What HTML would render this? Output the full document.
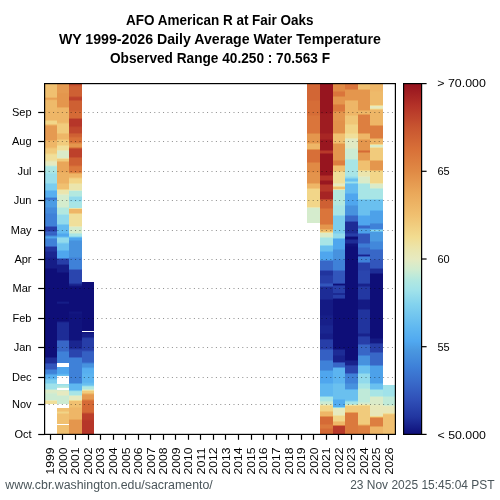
<!DOCTYPE html>
<html><head><meta charset="utf-8">
<style>
html,body{margin:0;padding:0;background:#fff;width:500px;height:500px;overflow:hidden}
svg{display:block;position:absolute;left:0;top:0;will-change:transform}
text{font-family:"Liberation Sans",sans-serif;fill:#000}
.t{font-weight:bold;font-size:14.6px}
.lab{font-size:11px}
</style></head><body>
<svg width="500" height="500" viewBox="0 0 500 500">
<defs>
<linearGradient id="cb" x1="0" y1="0" x2="0" y2="1">
<stop offset="0" stop-color="#94121e"/>
<stop offset="0.0625" stop-color="#b43228"/>
<stop offset="0.125" stop-color="#c85530"/>
<stop offset="0.1875" stop-color="#d87038"/>
<stop offset="0.25" stop-color="#e08a45"/>
<stop offset="0.3125" stop-color="#eaa85a"/>
<stop offset="0.375" stop-color="#f0c070"/>
<stop offset="0.4375" stop-color="#f2dc90"/>
<stop offset="0.475" stop-color="#eae6b0"/>
<stop offset="0.5" stop-color="#e6eac0"/>
<stop offset="0.53" stop-color="#d0ecd0"/>
<stop offset="0.56" stop-color="#b2e8e0"/>
<stop offset="0.59" stop-color="#a0e2ea"/>
<stop offset="0.63" stop-color="#82d2ee"/>
<stop offset="0.695" stop-color="#60b8f0"/>
<stop offset="0.735" stop-color="#50a8f0"/>
<stop offset="0.76" stop-color="#4a98e0"/>
<stop offset="0.8075" stop-color="#3e80d8"/>
<stop offset="0.855" stop-color="#3868c8"/>
<stop offset="0.9" stop-color="#3050b8"/>
<stop offset="0.95" stop-color="#2236a0"/>
<stop offset="1" stop-color="#0e0e78"/>
</linearGradient>
</defs>
<rect x="0" y="0" width="500" height="500" fill="#fff"/>
<text class="t" x="219.8" y="24.7" text-anchor="middle" textLength="187.5" lengthAdjust="spacingAndGlyphs">AFO American R at Fair Oaks</text>
<text class="t" x="219.9" y="43.8" text-anchor="middle" textLength="322" lengthAdjust="spacingAndGlyphs">WY 1999-2026 Daily Average Water Temperature</text>
<text class="t" x="220" y="62.8" text-anchor="middle" textLength="220" lengthAdjust="spacingAndGlyphs">Observed Range 40.250 : 70.563 F</text>
<g shape-rendering="crispEdges">
<rect x="44.5" y="83.5" width="12.5" height="13.02" fill="#f0c070"/>
<rect x="44.5" y="96.5" width="12.5" height="1.02" fill="#edb465"/>
<rect x="44.5" y="97.5" width="12.5" height="1.02" fill="#e79f54"/>
<rect x="44.5" y="98.5" width="12.5" height="1.02" fill="#e9a659"/>
<rect x="44.5" y="99.5" width="12.5" height="1.02" fill="#eeb767"/>
<rect x="44.5" y="100.5" width="12.5" height="9.02" fill="#eeba6a"/>
<rect x="44.5" y="109.5" width="12.5" height="1.02" fill="#eeb869"/>
<rect x="44.5" y="110.5" width="12.5" height="9.02" fill="#eeb667"/>
<rect x="44.5" y="119.5" width="12.5" height="1.02" fill="#f0c576"/>
<rect x="44.5" y="120.5" width="12.5" height="3.02" fill="#f2d689"/>
<rect x="44.5" y="123.5" width="12.5" height="1.02" fill="#f0c374"/>
<rect x="44.5" y="124.5" width="12.5" height="1.02" fill="#eaa85a"/>
<rect x="44.5" y="125.5" width="12.5" height="14.02" fill="#e59a51"/>
<rect x="44.5" y="139.5" width="12.5" height="1.02" fill="#eaaa5c"/>
<rect x="44.5" y="140.5" width="12.5" height="6.02" fill="#eeb667"/>
<rect x="44.5" y="146.5" width="12.5" height="1.02" fill="#efbc6c"/>
<rect x="44.5" y="147.5" width="12.5" height="1.02" fill="#f0c677"/>
<rect x="44.5" y="148.5" width="12.5" height="4.02" fill="#f1cb7c"/>
<rect x="44.5" y="152.5" width="12.5" height="1.02" fill="#f1d284"/>
<rect x="44.5" y="153.5" width="12.5" height="1.02" fill="#f2dc91"/>
<rect x="44.5" y="154.5" width="12.5" height="5.02" fill="#f0df9a"/>
<rect x="44.5" y="159.5" width="12.5" height="1.02" fill="#ede2a3"/>
<rect x="44.5" y="160.5" width="12.5" height="1.02" fill="#e8e8b6"/>
<rect x="44.5" y="161.5" width="12.5" height="3.02" fill="#e6eac0"/>
<rect x="44.5" y="164.5" width="12.5" height="1.02" fill="#d7ebcb"/>
<rect x="44.5" y="165.5" width="12.5" height="1.02" fill="#b6e9de"/>
<rect x="44.5" y="166.5" width="12.5" height="5.02" fill="#ace6e3"/>
<rect x="44.5" y="171.5" width="12.5" height="1.02" fill="#a9e5e5"/>
<rect x="44.5" y="172.5" width="12.5" height="1.02" fill="#a1e2ea"/>
<rect x="44.5" y="173.5" width="12.5" height="9.02" fill="#9bdfeb"/>
<rect x="44.5" y="182.5" width="12.5" height="1.02" fill="#8ad6ed"/>
<rect x="44.5" y="183.5" width="12.5" height="6.02" fill="#7ccdee"/>
<rect x="44.5" y="189.5" width="12.5" height="1.02" fill="#68bef0"/>
<rect x="44.5" y="190.5" width="12.5" height="6.02" fill="#57aff0"/>
<rect x="44.5" y="196.5" width="12.5" height="1.02" fill="#4a98e0"/>
<rect x="44.5" y="197.5" width="12.5" height="1.02" fill="#3b75d1"/>
<rect x="44.5" y="198.5" width="12.5" height="1.02" fill="#3d7cd5"/>
<rect x="44.5" y="199.5" width="12.5" height="1.02" fill="#4996df"/>
<rect x="44.5" y="200.5" width="12.5" height="6.02" fill="#4c9ce4"/>
<rect x="44.5" y="206.5" width="12.5" height="1.02" fill="#4893de"/>
<rect x="44.5" y="207.5" width="12.5" height="5.02" fill="#448bdc"/>
<rect x="44.5" y="212.5" width="12.5" height="1.02" fill="#4186da"/>
<rect x="44.5" y="213.5" width="12.5" height="12.02" fill="#3f81d8"/>
<rect x="44.5" y="225.5" width="12.5" height="1.02" fill="#3560c3"/>
<rect x="44.5" y="226.5" width="12.5" height="4.02" fill="#273ea8"/>
<rect x="44.5" y="230.5" width="12.5" height="1.02" fill="#3152ba"/>
<rect x="44.5" y="231.5" width="12.5" height="1.02" fill="#3867c7"/>
<rect x="44.5" y="232.5" width="12.5" height="1.02" fill="#3663c5"/>
<rect x="44.5" y="233.5" width="12.5" height="1.02" fill="#3560c3"/>
<rect x="44.5" y="234.5" width="12.5" height="1.02" fill="#3b75d0"/>
<rect x="44.5" y="235.5" width="12.5" height="1.02" fill="#4996df"/>
<rect x="44.5" y="236.5" width="12.5" height="1.02" fill="#4fa6ee"/>
<rect x="44.5" y="237.5" width="12.5" height="1.02" fill="#4792de"/>
<rect x="44.5" y="238.5" width="12.5" height="7.02" fill="#3f81d8"/>
<rect x="44.5" y="245.5" width="12.5" height="1.02" fill="#345bc0"/>
<rect x="44.5" y="246.5" width="12.5" height="4.02" fill="#21349e"/>
<rect x="44.5" y="250.5" width="12.5" height="1.02" fill="#1e2d97"/>
<rect x="44.5" y="251.5" width="12.5" height="5.02" fill="#1a2690"/>
<rect x="44.5" y="256.5" width="12.5" height="1.02" fill="#18228c"/>
<rect x="44.5" y="257.5" width="12.5" height="10.02" fill="#151d87"/>
<rect x="44.5" y="267.5" width="12.5" height="1.02" fill="#12157f"/>
<rect x="44.5" y="268.5" width="12.5" height="88.02" fill="#0e0e78"/>
<rect x="44.5" y="356.5" width="12.5" height="1.02" fill="#161d87"/>
<rect x="44.5" y="357.5" width="12.5" height="5.02" fill="#1d2c96"/>
<rect x="44.5" y="362.5" width="12.5" height="1.02" fill="#2943ac"/>
<rect x="44.5" y="363.5" width="12.5" height="5.02" fill="#3256bc"/>
<rect x="44.5" y="368.5" width="12.5" height="1.02" fill="#396ccb"/>
<rect x="44.5" y="369.5" width="12.5" height="3.02" fill="#3f81d8"/>
<rect x="44.5" y="372.5" width="12.5" height="1.02" fill="#4186da"/>
<rect x="44.5" y="373.5" width="12.5" height="1.02" fill="#4c9de5"/>
<rect x="44.5" y="374.5" width="12.5" height="3.02" fill="#57aff0"/>
<rect x="44.5" y="377.5" width="12.5" height="1.02" fill="#5db5f0"/>
<rect x="44.5" y="378.5" width="12.5" height="1.02" fill="#70c4ef"/>
<rect x="44.5" y="379.5" width="12.5" height="3.02" fill="#7ccdee"/>
<rect x="44.5" y="382.5" width="12.5" height="1.02" fill="#8dd8ed"/>
<rect x="44.5" y="383.5" width="12.5" height="5.02" fill="#a0e2ea"/>
<rect x="44.5" y="388.5" width="12.5" height="1.02" fill="#bae9dc"/>
<rect x="44.5" y="389.5" width="12.5" height="2.02" fill="#dcebc7"/>
<rect x="44.5" y="391.5" width="12.5" height="1.02" fill="#d9ebc9"/>
<rect x="44.5" y="392.5" width="12.5" height="1.02" fill="#d2eccf"/>
<rect x="44.5" y="393.5" width="12.5" height="6.02" fill="#ccebd2"/>
<rect x="44.5" y="399.5" width="12.5" height="1.02" fill="#e7e9bb"/>
<rect x="44.5" y="400.5" width="12.5" height="3.52" fill="#f0df9a"/>
<rect x="57" y="83.5" width="12" height="8.02" fill="#e59a51"/>
<rect x="57" y="91.5" width="12" height="1.02" fill="#e59a50"/>
<rect x="57" y="92.5" width="12" height="1.02" fill="#e4974e"/>
<rect x="57" y="93.5" width="12" height="13.02" fill="#e4964d"/>
<rect x="57" y="106.5" width="12" height="1.02" fill="#eaa85a"/>
<rect x="57" y="107.5" width="12" height="14.02" fill="#eeb667"/>
<rect x="57" y="121.5" width="12" height="1.02" fill="#eeba6a"/>
<rect x="57" y="122.5" width="12" height="1.02" fill="#f0c475"/>
<rect x="57" y="123.5" width="12" height="9.02" fill="#f1cb7c"/>
<rect x="57" y="132.5" width="12" height="1.02" fill="#f0c070"/>
<rect x="57" y="133.5" width="12" height="5.02" fill="#eeb667"/>
<rect x="57" y="138.5" width="12" height="1.02" fill="#f0c070"/>
<rect x="57" y="139.5" width="12" height="5.02" fill="#f1cb7c"/>
<rect x="57" y="144.5" width="12" height="1.02" fill="#f2d689"/>
<rect x="57" y="145.5" width="12" height="4.02" fill="#f0df9a"/>
<rect x="57" y="149.5" width="12" height="1.02" fill="#e9e7b5"/>
<rect x="57" y="150.5" width="12" height="7.02" fill="#daebc9"/>
<rect x="57" y="157.5" width="12" height="1.02" fill="#eee1a2"/>
<rect x="57" y="158.5" width="12" height="2.02" fill="#f1cb7c"/>
<rect x="57" y="160.5" width="12" height="1.02" fill="#eeb869"/>
<rect x="57" y="161.5" width="12" height="10.02" fill="#e9a659"/>
<rect x="57" y="171.5" width="12" height="1.02" fill="#ebad5e"/>
<rect x="57" y="172.5" width="12" height="10.02" fill="#edb263"/>
<rect x="57" y="182.5" width="12" height="1.02" fill="#eeb96a"/>
<rect x="57" y="183.5" width="12" height="5.02" fill="#f0c070"/>
<rect x="57" y="188.5" width="12" height="1.02" fill="#f2d588"/>
<rect x="57" y="189.5" width="12" height="3.02" fill="#ebe5ad"/>
<rect x="57" y="192.5" width="12" height="1.02" fill="#eae6b1"/>
<rect x="57" y="193.5" width="12" height="1.02" fill="#e4eac2"/>
<rect x="57" y="194.5" width="12" height="12.02" fill="#d5eccd"/>
<rect x="57" y="206.5" width="12" height="1.02" fill="#c5ead6"/>
<rect x="57" y="207.5" width="12" height="6.02" fill="#b3e8df"/>
<rect x="57" y="213.5" width="12" height="1.02" fill="#a4e3e8"/>
<rect x="57" y="214.5" width="12" height="9.02" fill="#92daec"/>
<rect x="57" y="223.5" width="12" height="1.02" fill="#79cbef"/>
<rect x="57" y="224.5" width="12" height="8.02" fill="#64bbf0"/>
<rect x="57" y="232.5" width="12" height="1.02" fill="#59b1f0"/>
<rect x="57" y="233.5" width="12" height="2.02" fill="#4fa6ee"/>
<rect x="57" y="235.5" width="12" height="1.02" fill="#59b1f0"/>
<rect x="57" y="236.5" width="12" height="1.02" fill="#79cbef"/>
<rect x="57" y="237.5" width="12" height="4.02" fill="#92daec"/>
<rect x="57" y="241.5" width="12" height="1.02" fill="#88d5ed"/>
<rect x="57" y="242.5" width="12" height="1.02" fill="#75c8ef"/>
<rect x="57" y="243.5" width="12" height="6.02" fill="#6ac0ef"/>
<rect x="57" y="249.5" width="12" height="1.02" fill="#5cb4f0"/>
<rect x="57" y="250.5" width="12" height="7.02" fill="#4fa6ee"/>
<rect x="57" y="257.5" width="12" height="1.02" fill="#3a72cf"/>
<rect x="57" y="258.5" width="12" height="5.02" fill="#273ea8"/>
<rect x="57" y="263.5" width="12" height="1.02" fill="#1f309a"/>
<rect x="57" y="264.5" width="12" height="7.02" fill="#151d87"/>
<rect x="57" y="271.5" width="12" height="1.02" fill="#12157f"/>
<rect x="57" y="272.5" width="12" height="28.02" fill="#0e0e78"/>
<rect x="57" y="300.5" width="12" height="1.02" fill="#10137d"/>
<rect x="57" y="301.5" width="12" height="1.02" fill="#151d87"/>
<rect x="57" y="302.5" width="12" height="1.02" fill="#131882"/>
<rect x="57" y="303.5" width="12" height="17.02" fill="#0e0e78"/>
<rect x="57" y="320.5" width="12" height="1.02" fill="#131781"/>
<rect x="57" y="321.5" width="12" height="1.02" fill="#1a2690"/>
<rect x="57" y="322.5" width="12" height="17.02" fill="#1d2c96"/>
<rect x="57" y="339.5" width="12" height="1.02" fill="#2d4bb3"/>
<rect x="57" y="340.5" width="12" height="10.02" fill="#3867c7"/>
<rect x="57" y="350.5" width="12" height="1.02" fill="#3b74d0"/>
<rect x="57" y="351.5" width="12" height="11.02" fill="#3f81d8"/>
<rect x="57" y="362.5" width="12" height="1.02" fill="#4792de"/>
<rect x="57" y="363.5" width="12" height="9.02" fill="#4fa6ee"/>
<rect x="57" y="372.5" width="12" height="1.02" fill="#51a9f0"/>
<rect x="57" y="373.5" width="12" height="1.02" fill="#5eb6f0"/>
<rect x="57" y="374.5" width="12" height="1.02" fill="#6ac0ef"/>
<rect x="57" y="375.5" width="12" height="1.02" fill="#78cbef"/>
<rect x="57" y="376.5" width="12" height="1.02" fill="#8dd8ed"/>
<rect x="57" y="377.5" width="12" height="6.02" fill="#92daec"/>
<rect x="57" y="383.5" width="12" height="1.02" fill="#9bdfeb"/>
<rect x="57" y="384.5" width="12" height="1.02" fill="#a6e4e7"/>
<rect x="57" y="385.5" width="12" height="1.02" fill="#ade6e3"/>
<rect x="57" y="386.5" width="12" height="1.02" fill="#bfead9"/>
<rect x="57" y="387.5" width="12" height="2.02" fill="#ccebd2"/>
<rect x="57" y="389.5" width="12" height="1.02" fill="#d7ebcb"/>
<rect x="57" y="390.5" width="12" height="1.02" fill="#e4eac2"/>
<rect x="57" y="391.5" width="12" height="3.02" fill="#e6eac0"/>
<rect x="57" y="394.5" width="12" height="1.02" fill="#daebc9"/>
<rect x="57" y="395.5" width="12" height="8.02" fill="#ccebd2"/>
<rect x="57" y="403.5" width="12" height="1.02" fill="#eee09e"/>
<rect x="57" y="404.5" width="12" height="6.02" fill="#f0c070"/>
<rect x="57" y="410.5" width="12" height="1.02" fill="#f1c97a"/>
<rect x="57" y="411.5" width="12" height="1.02" fill="#f1d487"/>
<rect x="57" y="412.5" width="12" height="1.02" fill="#f1cb7c"/>
<rect x="57" y="413.5" width="12" height="21.02" fill="#f0c070"/>
<rect x="57" y="363" width="12" height="4.2" fill="#ffffff"/>
<rect x="57" y="376.2" width="12" height="8" fill="#ffffff"/>
<rect x="57" y="388.4" width="12" height="1.8" fill="#ffffff"/>
<rect x="57" y="404" width="12" height="3.6" fill="#ffffff"/>
<rect x="57" y="423.8" width="12" height="1.2" fill="#ffffff"/>
<rect x="69" y="83.5" width="13" height="1.02" fill="#c34c2e"/>
<rect x="69" y="84.5" width="13" height="1.02" fill="#c75330"/>
<rect x="69" y="85.5" width="13" height="1.02" fill="#cc5c32"/>
<rect x="69" y="86.5" width="13" height="9.02" fill="#ce6033"/>
<rect x="69" y="95.5" width="13" height="1.02" fill="#c85530"/>
<rect x="69" y="96.5" width="13" height="1.02" fill="#bf452c"/>
<rect x="69" y="97.5" width="13" height="2.02" fill="#bd412b"/>
<rect x="69" y="99.5" width="13" height="1.02" fill="#c6522f"/>
<rect x="69" y="100.5" width="13" height="9.02" fill="#ce6033"/>
<rect x="69" y="109.5" width="13" height="1.02" fill="#d06234"/>
<rect x="69" y="110.5" width="13" height="1.02" fill="#d36735"/>
<rect x="69" y="111.5" width="13" height="6.02" fill="#d56a36"/>
<rect x="69" y="117.5" width="13" height="1.02" fill="#c75330"/>
<rect x="69" y="118.5" width="13" height="7.02" fill="#b63629"/>
<rect x="69" y="125.5" width="13" height="1.02" fill="#ba3d2a"/>
<rect x="69" y="126.5" width="13" height="1.02" fill="#bf452c"/>
<rect x="69" y="127.5" width="13" height="5.02" fill="#c0472d"/>
<rect x="69" y="132.5" width="13" height="1.02" fill="#c85530"/>
<rect x="69" y="133.5" width="13" height="2.02" fill="#ce6033"/>
<rect x="69" y="135.5" width="13" height="1.02" fill="#d06334"/>
<rect x="69" y="136.5" width="13" height="1.02" fill="#d56c37"/>
<rect x="69" y="137.5" width="13" height="4.02" fill="#d87138"/>
<rect x="69" y="141.5" width="13" height="1.02" fill="#da783c"/>
<rect x="69" y="142.5" width="13" height="1.02" fill="#e08a45"/>
<rect x="69" y="143.5" width="13" height="3.02" fill="#e4964d"/>
<rect x="69" y="146.5" width="13" height="1.02" fill="#dc7d3f"/>
<rect x="69" y="147.5" width="13" height="1.02" fill="#c85630"/>
<rect x="69" y="148.5" width="13" height="8.02" fill="#bd412b"/>
<rect x="69" y="156.5" width="13" height="1.02" fill="#c6522f"/>
<rect x="69" y="157.5" width="13" height="7.02" fill="#ce6033"/>
<rect x="69" y="164.5" width="13" height="1.02" fill="#d36735"/>
<rect x="69" y="165.5" width="13" height="1.02" fill="#d9743a"/>
<rect x="69" y="166.5" width="13" height="5.02" fill="#db793d"/>
<rect x="69" y="171.5" width="13" height="1.02" fill="#de8542"/>
<rect x="69" y="172.5" width="13" height="1.02" fill="#e9a658"/>
<rect x="69" y="173.5" width="13" height="3.02" fill="#eeb667"/>
<rect x="69" y="176.5" width="13" height="1.02" fill="#f0bf6f"/>
<rect x="69" y="177.5" width="13" height="1.02" fill="#f1cf81"/>
<rect x="69" y="178.5" width="13" height="4.02" fill="#f2d689"/>
<rect x="69" y="182.5" width="13" height="1.02" fill="#f0df99"/>
<rect x="69" y="183.5" width="13" height="6.02" fill="#ebe5ad"/>
<rect x="69" y="189.5" width="13" height="1.02" fill="#dbebc8"/>
<rect x="69" y="190.5" width="13" height="5.02" fill="#b3e8df"/>
<rect x="69" y="195.5" width="13" height="1.02" fill="#a4e3e8"/>
<rect x="69" y="196.5" width="13" height="4.02" fill="#92daec"/>
<rect x="69" y="200.5" width="13" height="1.02" fill="#9ee1ea"/>
<rect x="69" y="201.5" width="13" height="6.02" fill="#a8e5e6"/>
<rect x="69" y="207.5" width="13" height="1.02" fill="#ece3a6"/>
<rect x="69" y="208.5" width="13" height="4.02" fill="#eeb667"/>
<rect x="69" y="212.5" width="13" height="1.02" fill="#f1cb7c"/>
<rect x="69" y="213.5" width="13" height="12.02" fill="#f0df9a"/>
<rect x="69" y="225.5" width="13" height="1.02" fill="#e8e8b7"/>
<rect x="69" y="226.5" width="13" height="6.02" fill="#d5eccd"/>
<rect x="69" y="232.5" width="13" height="1.02" fill="#bbe9db"/>
<rect x="69" y="233.5" width="13" height="2.02" fill="#a8e5e6"/>
<rect x="69" y="235.5" width="13" height="1.02" fill="#91daec"/>
<rect x="69" y="236.5" width="13" height="1.02" fill="#63baf0"/>
<rect x="69" y="237.5" width="13" height="2.02" fill="#4fa6ee"/>
<rect x="69" y="239.5" width="13" height="1.02" fill="#4b9ce4"/>
<rect x="69" y="240.5" width="13" height="16.02" fill="#4792de"/>
<rect x="69" y="256.5" width="13" height="1.02" fill="#438adb"/>
<rect x="69" y="257.5" width="13" height="11.02" fill="#3f81d8"/>
<rect x="69" y="268.5" width="13" height="1.02" fill="#3764c5"/>
<rect x="69" y="269.5" width="13" height="13.02" fill="#2a45ae"/>
<rect x="69" y="282.5" width="13" height="1.02" fill="#2338a2"/>
<rect x="69" y="283.5" width="13" height="1.02" fill="#1a2690"/>
<rect x="69" y="284.5" width="13" height="1.02" fill="#171f89"/>
<rect x="69" y="285.5" width="13" height="1.02" fill="#10137d"/>
<rect x="69" y="286.5" width="13" height="24.02" fill="#0e0e78"/>
<rect x="69" y="310.5" width="13" height="1.02" fill="#10127c"/>
<rect x="69" y="311.5" width="13" height="1.02" fill="#121781"/>
<rect x="69" y="312.5" width="13" height="1.02" fill="#12157f"/>
<rect x="69" y="313.5" width="13" height="26.02" fill="#10137d"/>
<rect x="69" y="339.5" width="13" height="1.02" fill="#151d87"/>
<rect x="69" y="340.5" width="13" height="7.02" fill="#1a2690"/>
<rect x="69" y="347.5" width="13" height="1.02" fill="#1e2e98"/>
<rect x="69" y="348.5" width="13" height="1.02" fill="#263da7"/>
<rect x="69" y="349.5" width="13" height="7.02" fill="#2a45ae"/>
<rect x="69" y="356.5" width="13" height="1.02" fill="#3764c5"/>
<rect x="69" y="357.5" width="13" height="25.02" fill="#3f81d8"/>
<rect x="69" y="382.5" width="13" height="1.02" fill="#4c9de5"/>
<rect x="69" y="383.5" width="13" height="6.02" fill="#5fb7f0"/>
<rect x="69" y="389.5" width="13" height="1.02" fill="#77caef"/>
<rect x="69" y="390.5" width="13" height="1.02" fill="#a0e2ea"/>
<rect x="69" y="391.5" width="13" height="3.02" fill="#a8e5e6"/>
<rect x="69" y="394.5" width="13" height="1.02" fill="#c7ebd5"/>
<rect x="69" y="395.5" width="13" height="4.02" fill="#e6eac0"/>
<rect x="69" y="399.5" width="13" height="1.02" fill="#f2dc90"/>
<rect x="69" y="400.5" width="13" height="6.02" fill="#f0c070"/>
<rect x="69" y="406.5" width="13" height="1.02" fill="#efbb6b"/>
<rect x="69" y="407.5" width="13" height="11.02" fill="#eeb667"/>
<rect x="69" y="418.5" width="13" height="1.02" fill="#eaa85a"/>
<rect x="69" y="419.5" width="13" height="15.02" fill="#e4964d"/>
<rect x="82" y="282" width="12" height="50.02" fill="#0e0e78"/>
<rect x="82" y="332" width="12" height="1.02" fill="#10127c"/>
<rect x="82" y="333" width="12" height="1.02" fill="#141b85"/>
<rect x="82" y="334" width="12" height="3.02" fill="#171f89"/>
<rect x="82" y="337" width="12" height="1.02" fill="#1d2c96"/>
<rect x="82" y="338" width="12" height="1.02" fill="#253ba5"/>
<rect x="82" y="339" width="12" height="11.02" fill="#273ea8"/>
<rect x="82" y="350" width="12" height="1.02" fill="#2b47b0"/>
<rect x="82" y="351" width="12" height="1.02" fill="#3358bd"/>
<rect x="82" y="352" width="12" height="10.02" fill="#3560c3"/>
<rect x="82" y="362" width="12" height="1.02" fill="#396dcb"/>
<rect x="82" y="363" width="12" height="1.02" fill="#4186da"/>
<rect x="82" y="364" width="12" height="3.02" fill="#4792de"/>
<rect x="82" y="367" width="12" height="1.02" fill="#4c9de5"/>
<rect x="82" y="368" width="12" height="1.02" fill="#54acf0"/>
<rect x="82" y="369" width="12" height="4.02" fill="#57aff0"/>
<rect x="82" y="373" width="12" height="1.02" fill="#59b1f0"/>
<rect x="82" y="374" width="12" height="1.02" fill="#5bb3f0"/>
<rect x="82" y="375" width="12" height="7.02" fill="#5cb4f0"/>
<rect x="82" y="382" width="12" height="1.02" fill="#5fb7f0"/>
<rect x="82" y="383" width="12" height="1.02" fill="#67bdf0"/>
<rect x="82" y="384" width="12" height="1.02" fill="#6ac0ef"/>
<rect x="82" y="385" width="12" height="1.02" fill="#7accee"/>
<rect x="82" y="386" width="12" height="1.02" fill="#a1e2e9"/>
<rect x="82" y="387" width="12" height="2.02" fill="#b3e8df"/>
<rect x="82" y="389" width="12" height="1.02" fill="#cbebd3"/>
<rect x="82" y="390" width="12" height="1.02" fill="#eee19f"/>
<rect x="82" y="391" width="12" height="2.02" fill="#f1cb7c"/>
<rect x="82" y="393" width="12" height="1.02" fill="#eeba6a"/>
<rect x="82" y="394" width="12" height="1.02" fill="#e8a356"/>
<rect x="82" y="395" width="12" height="4.02" fill="#e59a51"/>
<rect x="82" y="399" width="12" height="1.02" fill="#e18d47"/>
<rect x="82" y="400" width="12" height="1.02" fill="#da763b"/>
<rect x="82" y="401" width="12" height="11.02" fill="#d56a36"/>
<rect x="82" y="412" width="12" height="1.02" fill="#cf6133"/>
<rect x="82" y="413" width="12" height="1.02" fill="#c24b2e"/>
<rect x="82" y="414" width="12" height="5.02" fill="#bb3e2b"/>
<rect x="82" y="419" width="12" height="1.02" fill="#ba3c2a"/>
<rect x="82" y="420" width="12" height="1.02" fill="#b83829"/>
<rect x="82" y="421" width="12" height="13.52" fill="#b63629"/>
<rect x="82" y="331" width="12" height="1.2" fill="#ffffff"/>
<rect x="307" y="83.5" width="13" height="16.02" fill="#d26635"/>
<rect x="307" y="99.5" width="13" height="1.02" fill="#d46936"/>
<rect x="307" y="100.5" width="13" height="14.02" fill="#d66d37"/>
<rect x="307" y="114.5" width="13" height="1.02" fill="#d87138"/>
<rect x="307" y="115.5" width="13" height="17.02" fill="#da753b"/>
<rect x="307" y="132.5" width="13" height="1.02" fill="#de8542"/>
<rect x="307" y="133.5" width="13" height="9.02" fill="#e4964d"/>
<rect x="307" y="142.5" width="13" height="1.02" fill="#eaa85a"/>
<rect x="307" y="143.5" width="13" height="5.02" fill="#eeb667"/>
<rect x="307" y="148.5" width="13" height="1.02" fill="#e3924b"/>
<rect x="307" y="149.5" width="13" height="12.02" fill="#d76f38"/>
<rect x="307" y="161.5" width="13" height="1.02" fill="#dc7c3e"/>
<rect x="307" y="162.5" width="13" height="9.02" fill="#e08a45"/>
<rect x="307" y="171.5" width="13" height="1.02" fill="#e28f48"/>
<rect x="307" y="172.5" width="13" height="10.02" fill="#e3934c"/>
<rect x="307" y="182.5" width="13" height="1.02" fill="#e9a659"/>
<rect x="307" y="183.5" width="13" height="4.02" fill="#eeb667"/>
<rect x="307" y="187.5" width="13" height="1.02" fill="#f0c576"/>
<rect x="307" y="188.5" width="13" height="18.02" fill="#f2d689"/>
<rect x="307" y="206.5" width="13" height="1.02" fill="#eae6af"/>
<rect x="307" y="207.5" width="13" height="15.52" fill="#d5eccd"/>
<rect x="320" y="83.5" width="13" height="29.02" fill="#97151f"/>
<rect x="320" y="112.5" width="13" height="1.02" fill="#9a1820"/>
<rect x="320" y="113.5" width="13" height="19.02" fill="#9e1c21"/>
<rect x="320" y="132.5" width="13" height="1.02" fill="#a32123"/>
<rect x="320" y="133.5" width="13" height="5.02" fill="#a82624"/>
<rect x="320" y="138.5" width="13" height="1.02" fill="#a11f22"/>
<rect x="320" y="139.5" width="13" height="10.02" fill="#991720"/>
<rect x="320" y="149.5" width="13" height="1.02" fill="#aa2825"/>
<rect x="320" y="150.5" width="13" height="2.02" fill="#b8392a"/>
<rect x="320" y="152.5" width="13" height="1.02" fill="#a82624"/>
<rect x="320" y="153.5" width="13" height="21.02" fill="#97151f"/>
<rect x="320" y="174.5" width="13" height="1.02" fill="#a52323"/>
<rect x="320" y="175.5" width="13" height="4.02" fill="#b33128"/>
<rect x="320" y="179.5" width="13" height="1.02" fill="#a62424"/>
<rect x="320" y="180.5" width="13" height="3.02" fill="#991720"/>
<rect x="320" y="183.5" width="13" height="1.02" fill="#a82624"/>
<rect x="320" y="184.5" width="13" height="6.02" fill="#b63629"/>
<rect x="320" y="190.5" width="13" height="1.02" fill="#af2d26"/>
<rect x="320" y="191.5" width="13" height="7.02" fill="#a62424"/>
<rect x="320" y="198.5" width="13" height="1.02" fill="#be432c"/>
<rect x="320" y="199.5" width="13" height="8.02" fill="#ce6033"/>
<rect x="320" y="207.5" width="13" height="1.02" fill="#d56a36"/>
<rect x="320" y="208.5" width="13" height="15.02" fill="#da753b"/>
<rect x="320" y="223.5" width="13" height="1.02" fill="#de8542"/>
<rect x="320" y="224.5" width="13" height="4.02" fill="#e4964d"/>
<rect x="320" y="228.5" width="13" height="1.02" fill="#ebad5e"/>
<rect x="320" y="229.5" width="13" height="2.02" fill="#f0c070"/>
<rect x="320" y="231.5" width="13" height="1.02" fill="#f0de97"/>
<rect x="320" y="232.5" width="13" height="4.02" fill="#daebc9"/>
<rect x="320" y="236.5" width="13" height="1.02" fill="#bfead9"/>
<rect x="320" y="237.5" width="13" height="7.02" fill="#a8e5e6"/>
<rect x="320" y="244.5" width="13" height="1.02" fill="#85d4ee"/>
<rect x="320" y="245.5" width="13" height="5.02" fill="#6ac0ef"/>
<rect x="320" y="250.5" width="13" height="1.02" fill="#5cb4f0"/>
<rect x="320" y="251.5" width="13" height="8.02" fill="#4fa6ee"/>
<rect x="320" y="259.5" width="13" height="1.02" fill="#4185da"/>
<rect x="320" y="260.5" width="13" height="9.02" fill="#3867c7"/>
<rect x="320" y="269.5" width="13" height="1.02" fill="#2f4eb6"/>
<rect x="320" y="270.5" width="13" height="4.02" fill="#21349e"/>
<rect x="320" y="274.5" width="13" height="1.02" fill="#243aa3"/>
<rect x="320" y="275.5" width="13" height="7.02" fill="#273ea8"/>
<rect x="320" y="282.5" width="13" height="1.02" fill="#2d4ab3"/>
<rect x="320" y="283.5" width="13" height="2.02" fill="#3256bc"/>
<rect x="320" y="285.5" width="13" height="1.02" fill="#2943ac"/>
<rect x="320" y="286.5" width="13" height="12.02" fill="#1d2c96"/>
<rect x="320" y="298.5" width="13" height="1.02" fill="#19238d"/>
<rect x="320" y="299.5" width="13" height="15.02" fill="#141a84"/>
<rect x="320" y="314.5" width="13" height="1.02" fill="#151d87"/>
<rect x="320" y="315.5" width="13" height="9.02" fill="#171f89"/>
<rect x="320" y="324.5" width="13" height="1.02" fill="#18238d"/>
<rect x="320" y="325.5" width="13" height="7.02" fill="#1a2690"/>
<rect x="320" y="332.5" width="13" height="1.02" fill="#18238d"/>
<rect x="320" y="333.5" width="13" height="5.02" fill="#171f89"/>
<rect x="320" y="338.5" width="13" height="1.02" fill="#20319b"/>
<rect x="320" y="339.5" width="13" height="9.02" fill="#273ea8"/>
<rect x="320" y="348.5" width="13" height="1.02" fill="#304fb7"/>
<rect x="320" y="349.5" width="13" height="10.02" fill="#3560c3"/>
<rect x="320" y="359.5" width="13" height="1.02" fill="#3a71ce"/>
<rect x="320" y="360.5" width="13" height="9.02" fill="#3f81d8"/>
<rect x="320" y="369.5" width="13" height="1.02" fill="#4792de"/>
<rect x="320" y="370.5" width="13" height="12.02" fill="#4fa6ee"/>
<rect x="320" y="382.5" width="13" height="1.02" fill="#57aff0"/>
<rect x="320" y="383.5" width="13" height="12.02" fill="#5fb7f0"/>
<rect x="320" y="395.5" width="13" height="1.02" fill="#7ecfee"/>
<rect x="320" y="396.5" width="13" height="3.02" fill="#a8e5e6"/>
<rect x="320" y="399.5" width="13" height="1.02" fill="#ade6e3"/>
<rect x="320" y="400.5" width="13" height="1.02" fill="#bfead9"/>
<rect x="320" y="401.5" width="13" height="2.02" fill="#ccebd2"/>
<rect x="320" y="403.5" width="13" height="1.02" fill="#ddebc6"/>
<rect x="320" y="404.5" width="13" height="1.02" fill="#eee1a1"/>
<rect x="320" y="405.5" width="13" height="5.02" fill="#f2d689"/>
<rect x="320" y="410.5" width="13" height="1.02" fill="#f0c576"/>
<rect x="320" y="411.5" width="13" height="4.02" fill="#eeb667"/>
<rect x="320" y="415.5" width="13" height="1.02" fill="#e29049"/>
<rect x="320" y="416.5" width="13" height="7.02" fill="#d56a36"/>
<rect x="320" y="423.5" width="13" height="1.02" fill="#d97239"/>
<rect x="320" y="424.5" width="13" height="3.02" fill="#db793d"/>
<rect x="320" y="427.5" width="13" height="1.02" fill="#d97239"/>
<rect x="320" y="428.5" width="13" height="6.02" fill="#d56a36"/>
<rect x="333" y="83.5" width="12" height="7.02" fill="#e08a45"/>
<rect x="333" y="90.5" width="12" height="1.02" fill="#dd7f40"/>
<rect x="333" y="91.5" width="12" height="4.02" fill="#da753b"/>
<rect x="333" y="95.5" width="12" height="1.02" fill="#de8542"/>
<rect x="333" y="96.5" width="12" height="7.02" fill="#e4964d"/>
<rect x="333" y="103.5" width="12" height="1.02" fill="#df8743"/>
<rect x="333" y="104.5" width="12" height="6.02" fill="#db793d"/>
<rect x="333" y="110.5" width="12" height="1.02" fill="#df8743"/>
<rect x="333" y="111.5" width="12" height="8.02" fill="#e4964d"/>
<rect x="333" y="119.5" width="12" height="1.02" fill="#e3934c"/>
<rect x="333" y="120.5" width="12" height="12.02" fill="#e2914a"/>
<rect x="333" y="132.5" width="12" height="1.02" fill="#ebab5c"/>
<rect x="333" y="133.5" width="12" height="9.02" fill="#f0c070"/>
<rect x="333" y="142.5" width="12" height="1.02" fill="#ebad5e"/>
<rect x="333" y="143.5" width="12" height="16.02" fill="#e4964d"/>
<rect x="333" y="159.5" width="12" height="1.02" fill="#e08a45"/>
<rect x="333" y="160.5" width="12" height="4.02" fill="#dd7f40"/>
<rect x="333" y="164.5" width="12" height="1.02" fill="#e8a256"/>
<rect x="333" y="165.5" width="12" height="5.02" fill="#f0c070"/>
<rect x="333" y="170.5" width="12" height="1.02" fill="#f1d083"/>
<rect x="333" y="171.5" width="12" height="11.02" fill="#f0df9a"/>
<rect x="333" y="182.5" width="12" height="1.02" fill="#eae6b0"/>
<rect x="333" y="183.5" width="12" height="2.02" fill="#e6eac0"/>
<rect x="333" y="185.5" width="12" height="1.02" fill="#f2dc90"/>
<rect x="333" y="186.5" width="12" height="2.02" fill="#f0c070"/>
<rect x="333" y="188.5" width="12" height="1.02" fill="#ece4a9"/>
<rect x="333" y="189.5" width="12" height="15.02" fill="#b3e8df"/>
<rect x="333" y="204.5" width="12" height="1.02" fill="#ade6e3"/>
<rect x="333" y="205.5" width="12" height="9.02" fill="#a8e5e6"/>
<rect x="333" y="214.5" width="12" height="1.02" fill="#91daec"/>
<rect x="333" y="215.5" width="12" height="17.02" fill="#7ccdee"/>
<rect x="333" y="232.5" width="12" height="1.02" fill="#86d4ee"/>
<rect x="333" y="233.5" width="12" height="4.02" fill="#92daec"/>
<rect x="333" y="237.5" width="12" height="1.02" fill="#6bc1ef"/>
<rect x="333" y="238.5" width="12" height="10.02" fill="#4fa6ee"/>
<rect x="333" y="248.5" width="12" height="1.02" fill="#4b9ce4"/>
<rect x="333" y="249.5" width="12" height="9.02" fill="#4792de"/>
<rect x="333" y="258.5" width="12" height="1.02" fill="#438adb"/>
<rect x="333" y="259.5" width="12" height="10.02" fill="#3f81d8"/>
<rect x="333" y="269.5" width="12" height="1.02" fill="#396ccb"/>
<rect x="333" y="270.5" width="12" height="12.02" fill="#3256bc"/>
<rect x="333" y="282.5" width="12" height="1.02" fill="#2439a3"/>
<rect x="333" y="283.5" width="12" height="1.02" fill="#0e0e78"/>
<rect x="333" y="284.5" width="12" height="1.02" fill="#1b2993"/>
<rect x="333" y="285.5" width="12" height="7.02" fill="#273ea8"/>
<rect x="333" y="292.5" width="12" height="2.02" fill="#1b2993"/>
<rect x="333" y="294.5" width="12" height="3.02" fill="#273ea8"/>
<rect x="333" y="297.5" width="12" height="1.02" fill="#1b2993"/>
<rect x="333" y="298.5" width="12" height="50.02" fill="#0e0e78"/>
<rect x="333" y="348.5" width="12" height="1.02" fill="#161d87"/>
<rect x="333" y="349.5" width="12" height="5.02" fill="#1d2c96"/>
<rect x="333" y="354.5" width="12" height="1.02" fill="#1a2791"/>
<rect x="333" y="355.5" width="12" height="6.02" fill="#18228c"/>
<rect x="333" y="361.5" width="12" height="1.02" fill="#2b47b0"/>
<rect x="333" y="362.5" width="12" height="4.02" fill="#3867c7"/>
<rect x="333" y="366.5" width="12" height="1.02" fill="#458ddc"/>
<rect x="333" y="367.5" width="12" height="15.02" fill="#5cb4f0"/>
<rect x="333" y="382.5" width="12" height="1.02" fill="#63baf0"/>
<rect x="333" y="383.5" width="12" height="15.02" fill="#6ac0ef"/>
<rect x="333" y="398.5" width="12" height="1.02" fill="#5eb6f0"/>
<rect x="333" y="399.5" width="12" height="7.02" fill="#54acf0"/>
<rect x="333" y="406.5" width="12" height="1.02" fill="#8fd9ec"/>
<rect x="333" y="407.5" width="12" height="7.02" fill="#e6eac0"/>
<rect x="333" y="414.5" width="12" height="1.02" fill="#ede3a5"/>
<rect x="333" y="415.5" width="12" height="5.02" fill="#f2d689"/>
<rect x="333" y="420.5" width="12" height="1.02" fill="#f0c576"/>
<rect x="333" y="421.5" width="12" height="3.02" fill="#eeb667"/>
<rect x="333" y="424.5" width="12" height="1.02" fill="#db7a3d"/>
<rect x="333" y="425.5" width="12" height="9.02" fill="#b8392a"/>
<rect x="345" y="83.5" width="13" height="5.02" fill="#da753b"/>
<rect x="345" y="88.5" width="13" height="1.02" fill="#de8542"/>
<rect x="345" y="89.5" width="13" height="10.02" fill="#e4964d"/>
<rect x="345" y="99.5" width="13" height="1.02" fill="#eaa85a"/>
<rect x="345" y="100.5" width="13" height="14.02" fill="#eeb667"/>
<rect x="345" y="114.5" width="13" height="1.02" fill="#efbe6e"/>
<rect x="345" y="115.5" width="13" height="8.02" fill="#f0c677"/>
<rect x="345" y="123.5" width="13" height="1.02" fill="#f1cd7f"/>
<rect x="345" y="124.5" width="13" height="8.02" fill="#f1d487"/>
<rect x="345" y="132.5" width="13" height="1.02" fill="#f2da8e"/>
<rect x="345" y="133.5" width="13" height="4.02" fill="#f0df9a"/>
<rect x="345" y="137.5" width="13" height="1.02" fill="#eae6b2"/>
<rect x="345" y="138.5" width="13" height="9.02" fill="#e1eac4"/>
<rect x="345" y="147.5" width="13" height="1.02" fill="#d7ebcb"/>
<rect x="345" y="148.5" width="13" height="10.02" fill="#ccebd2"/>
<rect x="345" y="158.5" width="13" height="1.02" fill="#b6e9de"/>
<rect x="345" y="159.5" width="13" height="16.02" fill="#a8e5e6"/>
<rect x="345" y="175.5" width="13" height="1.02" fill="#9ee1ea"/>
<rect x="345" y="176.5" width="13" height="1.02" fill="#92daec"/>
<rect x="345" y="177.5" width="13" height="1.02" fill="#7ccdee"/>
<rect x="345" y="178.5" width="13" height="2.02" fill="#6ac0ef"/>
<rect x="345" y="180.5" width="13" height="1.02" fill="#7fd0ee"/>
<rect x="345" y="181.5" width="13" height="1.02" fill="#9bdfeb"/>
<rect x="345" y="182.5" width="13" height="1.02" fill="#7ccdee"/>
<rect x="345" y="183.5" width="13" height="9.02" fill="#64bbf0"/>
<rect x="345" y="192.5" width="13" height="1.02" fill="#59b1f0"/>
<rect x="345" y="193.5" width="13" height="11.02" fill="#4fa6ee"/>
<rect x="345" y="204.5" width="13" height="1.02" fill="#4b9ce4"/>
<rect x="345" y="205.5" width="13" height="9.02" fill="#4792de"/>
<rect x="345" y="214.5" width="13" height="1.02" fill="#3d7cd6"/>
<rect x="345" y="215.5" width="13" height="5.02" fill="#3867c7"/>
<rect x="345" y="220.5" width="13" height="1.02" fill="#2d4bb3"/>
<rect x="345" y="221.5" width="13" height="11.02" fill="#1d2c96"/>
<rect x="345" y="232.5" width="13" height="1.02" fill="#2337a1"/>
<rect x="345" y="233.5" width="13" height="2.02" fill="#273ea8"/>
<rect x="345" y="235.5" width="13" height="1.02" fill="#1b2993"/>
<rect x="345" y="236.5" width="13" height="2.02" fill="#0e0e78"/>
<rect x="345" y="238.5" width="13" height="1.02" fill="#161d87"/>
<rect x="345" y="239.5" width="13" height="3.02" fill="#1d2c96"/>
<rect x="345" y="242.5" width="13" height="1.02" fill="#171f89"/>
<rect x="345" y="243.5" width="13" height="2.02" fill="#10137d"/>
<rect x="345" y="245.5" width="13" height="1.02" fill="#0f107a"/>
<rect x="345" y="246.5" width="13" height="113.02" fill="#0e0e78"/>
<rect x="345" y="359.5" width="13" height="1.02" fill="#131882"/>
<rect x="345" y="360.5" width="13" height="4.02" fill="#18228c"/>
<rect x="345" y="364.5" width="13" height="1.02" fill="#2237a1"/>
<rect x="345" y="365.5" width="13" height="7.02" fill="#2a45ae"/>
<rect x="345" y="372.5" width="13" height="1.02" fill="#3764c5"/>
<rect x="345" y="373.5" width="13" height="9.02" fill="#3f81d8"/>
<rect x="345" y="382.5" width="13" height="1.02" fill="#438adb"/>
<rect x="345" y="383.5" width="13" height="5.02" fill="#4792de"/>
<rect x="345" y="388.5" width="13" height="1.02" fill="#55adf0"/>
<rect x="345" y="389.5" width="13" height="10.02" fill="#6ac0ef"/>
<rect x="345" y="399.5" width="13" height="1.02" fill="#75c8ef"/>
<rect x="345" y="400.5" width="13" height="1.02" fill="#93dbec"/>
<rect x="345" y="401.5" width="13" height="2.02" fill="#a8e5e6"/>
<rect x="345" y="403.5" width="13" height="1.02" fill="#c4ead6"/>
<rect x="345" y="404.5" width="13" height="1.02" fill="#efe09d"/>
<rect x="345" y="405.5" width="13" height="6.02" fill="#f1cb7c"/>
<rect x="345" y="411.5" width="13" height="1.02" fill="#e9a457"/>
<rect x="345" y="412.5" width="13" height="22.02" fill="#db793d"/>
<rect x="358" y="83.5" width="12" height="5.02" fill="#f0c070"/>
<rect x="358" y="88.5" width="12" height="1.02" fill="#ebad5e"/>
<rect x="358" y="89.5" width="12" height="20.02" fill="#e4964d"/>
<rect x="358" y="109.5" width="12" height="1.02" fill="#eaa85a"/>
<rect x="358" y="110.5" width="12" height="3.02" fill="#eeb667"/>
<rect x="358" y="113.5" width="12" height="1.02" fill="#e69c51"/>
<rect x="358" y="114.5" width="12" height="18.02" fill="#dd7f40"/>
<rect x="358" y="132.5" width="12" height="1.02" fill="#e69c51"/>
<rect x="358" y="133.5" width="12" height="5.02" fill="#eeb667"/>
<rect x="358" y="138.5" width="12" height="1.02" fill="#eaa85a"/>
<rect x="358" y="139.5" width="12" height="10.02" fill="#e4964d"/>
<rect x="358" y="149.5" width="12" height="1.02" fill="#dd7f40"/>
<rect x="358" y="150.5" width="12" height="1.02" fill="#d56a36"/>
<rect x="358" y="151.5" width="12" height="1.02" fill="#dd8141"/>
<rect x="358" y="152.5" width="12" height="7.02" fill="#e59a51"/>
<rect x="358" y="159.5" width="12" height="1.02" fill="#ecae60"/>
<rect x="358" y="160.5" width="12" height="9.02" fill="#f0c070"/>
<rect x="358" y="169.5" width="12" height="1.02" fill="#f2d588"/>
<rect x="358" y="170.5" width="12" height="5.02" fill="#ebe5ad"/>
<rect x="358" y="175.5" width="12" height="1.02" fill="#e7e9bc"/>
<rect x="358" y="176.5" width="12" height="6.02" fill="#daebc9"/>
<rect x="358" y="182.5" width="12" height="1.02" fill="#bfead9"/>
<rect x="358" y="183.5" width="12" height="15.02" fill="#a8e5e6"/>
<rect x="358" y="198.5" width="12" height="1.02" fill="#85d4ee"/>
<rect x="358" y="199.5" width="12" height="15.02" fill="#6ac0ef"/>
<rect x="358" y="214.5" width="12" height="1.02" fill="#5cb4f0"/>
<rect x="358" y="215.5" width="12" height="9.02" fill="#4fa6ee"/>
<rect x="358" y="224.5" width="12" height="1.02" fill="#4185da"/>
<rect x="358" y="225.5" width="12" height="2.02" fill="#3867c7"/>
<rect x="358" y="227.5" width="12" height="1.02" fill="#4083d9"/>
<rect x="358" y="228.5" width="12" height="4.02" fill="#4da1e9"/>
<rect x="358" y="232.5" width="12" height="1.02" fill="#3d7bd5"/>
<rect x="358" y="233.5" width="12" height="9.02" fill="#3256bc"/>
<rect x="358" y="242.5" width="12" height="1.02" fill="#3869c9"/>
<rect x="358" y="243.5" width="12" height="3.02" fill="#3d7bd4"/>
<rect x="358" y="246.5" width="12" height="1.02" fill="#3a71ce"/>
<rect x="358" y="247.5" width="12" height="6.02" fill="#3867c7"/>
<rect x="358" y="253.5" width="12" height="1.02" fill="#2b47b0"/>
<rect x="358" y="254.5" width="12" height="1.02" fill="#18228c"/>
<rect x="358" y="255.5" width="12" height="1.02" fill="#3255bb"/>
<rect x="358" y="256.5" width="12" height="5.02" fill="#3f81d8"/>
<rect x="358" y="261.5" width="12" height="1.02" fill="#3560c3"/>
<rect x="358" y="262.5" width="12" height="7.02" fill="#273ea8"/>
<rect x="358" y="269.5" width="12" height="1.02" fill="#2842ab"/>
<rect x="358" y="270.5" width="12" height="12.02" fill="#2a45ae"/>
<rect x="358" y="282.5" width="12" height="1.02" fill="#2237a1"/>
<rect x="358" y="283.5" width="12" height="2.02" fill="#18228c"/>
<rect x="358" y="285.5" width="12" height="1.02" fill="#1e2d97"/>
<rect x="358" y="286.5" width="12" height="12.02" fill="#2338a2"/>
<rect x="358" y="298.5" width="12" height="1.02" fill="#1c2a94"/>
<rect x="358" y="299.5" width="12" height="9.02" fill="#141a84"/>
<rect x="358" y="308.5" width="12" height="1.02" fill="#1b2791"/>
<rect x="358" y="309.5" width="12" height="23.02" fill="#21349e"/>
<rect x="358" y="332.5" width="12" height="1.02" fill="#1d2b95"/>
<rect x="358" y="333.5" width="12" height="2.02" fill="#18228c"/>
<rect x="358" y="335.5" width="12" height="1.02" fill="#20329c"/>
<rect x="358" y="336.5" width="12" height="7.02" fill="#273ea8"/>
<rect x="358" y="343.5" width="12" height="1.02" fill="#3152ba"/>
<rect x="358" y="344.5" width="12" height="10.02" fill="#3867c7"/>
<rect x="358" y="354.5" width="12" height="1.02" fill="#3d7cd6"/>
<rect x="358" y="355.5" width="12" height="9.02" fill="#4792de"/>
<rect x="358" y="364.5" width="12" height="1.02" fill="#55adf0"/>
<rect x="358" y="365.5" width="12" height="7.02" fill="#6ac0ef"/>
<rect x="358" y="372.5" width="12" height="1.02" fill="#7ccdee"/>
<rect x="358" y="373.5" width="12" height="9.02" fill="#92daec"/>
<rect x="358" y="382.5" width="12" height="1.02" fill="#9ee1ea"/>
<rect x="358" y="383.5" width="12" height="4.02" fill="#a8e5e6"/>
<rect x="358" y="387.5" width="12" height="1.02" fill="#b1e8e1"/>
<rect x="358" y="388.5" width="12" height="13.02" fill="#bfead9"/>
<rect x="358" y="401.5" width="12" height="1.02" fill="#cbebd3"/>
<rect x="358" y="402.5" width="12" height="1.02" fill="#d5eccd"/>
<rect x="358" y="403.5" width="12" height="1.02" fill="#e6eabf"/>
<rect x="358" y="404.5" width="12" height="1.02" fill="#f2dc8f"/>
<rect x="358" y="405.5" width="12" height="18.02" fill="#f1cb7c"/>
<rect x="358" y="423.5" width="12" height="1.02" fill="#efbc6c"/>
<rect x="358" y="424.5" width="12" height="1.02" fill="#e4974e"/>
<rect x="358" y="425.5" width="12" height="9.02" fill="#dd7f40"/>
<rect x="370" y="83.5" width="13" height="7.02" fill="#eeb667"/>
<rect x="370" y="90.5" width="13" height="1.02" fill="#eeb869"/>
<rect x="370" y="91.5" width="13" height="13.02" fill="#eeba6a"/>
<rect x="370" y="104.5" width="13" height="1.02" fill="#f2d88c"/>
<rect x="370" y="105.5" width="13" height="2.02" fill="#e6eac0"/>
<rect x="370" y="107.5" width="13" height="1.02" fill="#ebe5ac"/>
<rect x="370" y="108.5" width="13" height="1.02" fill="#f1c97a"/>
<rect x="370" y="109.5" width="13" height="15.02" fill="#eeb667"/>
<rect x="370" y="124.5" width="13" height="1.02" fill="#e59a51"/>
<rect x="370" y="125.5" width="13" height="12.02" fill="#dc7d3f"/>
<rect x="370" y="137.5" width="13" height="1.02" fill="#e59a51"/>
<rect x="370" y="138.5" width="13" height="5.02" fill="#eeb667"/>
<rect x="370" y="143.5" width="13" height="1.02" fill="#f2da8e"/>
<rect x="370" y="144.5" width="13" height="2.02" fill="#daebc9"/>
<rect x="370" y="146.5" width="13" height="1.02" fill="#eee1a2"/>
<rect x="370" y="147.5" width="13" height="12.02" fill="#f1cb7c"/>
<rect x="370" y="159.5" width="13" height="1.02" fill="#ecb163"/>
<rect x="370" y="160.5" width="13" height="9.02" fill="#e4964d"/>
<rect x="370" y="169.5" width="13" height="1.02" fill="#eeb667"/>
<rect x="370" y="170.5" width="13" height="12.02" fill="#f2d689"/>
<rect x="370" y="182.5" width="13" height="1.02" fill="#ebe5ac"/>
<rect x="370" y="183.5" width="13" height="4.02" fill="#daebc9"/>
<rect x="370" y="187.5" width="13" height="1.02" fill="#bfead9"/>
<rect x="370" y="188.5" width="13" height="10.02" fill="#a8e5e6"/>
<rect x="370" y="198.5" width="13" height="1.02" fill="#85d4ee"/>
<rect x="370" y="199.5" width="13" height="10.02" fill="#6ac0ef"/>
<rect x="370" y="209.5" width="13" height="1.02" fill="#5ab2f0"/>
<rect x="370" y="210.5" width="13" height="12.02" fill="#4da1e9"/>
<rect x="370" y="222.5" width="13" height="1.02" fill="#4690dd"/>
<rect x="370" y="223.5" width="13" height="5.02" fill="#3f81d8"/>
<rect x="370" y="228.5" width="13" height="1.02" fill="#5bb3f0"/>
<rect x="370" y="229.5" width="13" height="1.02" fill="#92daec"/>
<rect x="370" y="230.5" width="13" height="1.02" fill="#66bdf0"/>
<rect x="370" y="231.5" width="13" height="9.02" fill="#4b9ae2"/>
<rect x="370" y="240.5" width="13" height="1.02" fill="#4690dd"/>
<rect x="370" y="241.5" width="13" height="7.02" fill="#4288db"/>
<rect x="370" y="248.5" width="13" height="1.02" fill="#3c77d2"/>
<rect x="370" y="249.5" width="13" height="9.02" fill="#3867c7"/>
<rect x="370" y="258.5" width="13" height="1.02" fill="#355fc2"/>
<rect x="370" y="259.5" width="13" height="8.02" fill="#3256bc"/>
<rect x="370" y="267.5" width="13" height="1.02" fill="#2943ac"/>
<rect x="370" y="268.5" width="13" height="4.02" fill="#1d2c96"/>
<rect x="370" y="272.5" width="13" height="1.02" fill="#161d87"/>
<rect x="370" y="273.5" width="13" height="64.02" fill="#0e0e78"/>
<rect x="370" y="337.5" width="13" height="1.02" fill="#11147e"/>
<rect x="370" y="338.5" width="13" height="4.02" fill="#141a84"/>
<rect x="370" y="342.5" width="13" height="1.02" fill="#1e2f99"/>
<rect x="370" y="343.5" width="13" height="8.02" fill="#273ea8"/>
<rect x="370" y="351.5" width="13" height="1.02" fill="#3152ba"/>
<rect x="370" y="352.5" width="13" height="12.02" fill="#3867c7"/>
<rect x="370" y="364.5" width="13" height="1.02" fill="#4083d9"/>
<rect x="370" y="365.5" width="13" height="17.02" fill="#4da1e9"/>
<rect x="370" y="382.5" width="13" height="1.02" fill="#5ab2f0"/>
<rect x="370" y="383.5" width="13" height="5.02" fill="#6ac0ef"/>
<rect x="370" y="388.5" width="13" height="1.02" fill="#85d4ee"/>
<rect x="370" y="389.5" width="13" height="6.02" fill="#a8e5e6"/>
<rect x="370" y="395.5" width="13" height="1.02" fill="#bfead9"/>
<rect x="370" y="396.5" width="13" height="7.02" fill="#daebc9"/>
<rect x="370" y="403.5" width="13" height="1.02" fill="#deebc6"/>
<rect x="370" y="404.5" width="13" height="1.02" fill="#e6eabe"/>
<rect x="370" y="405.5" width="13" height="10.02" fill="#e8e8b9"/>
<rect x="370" y="415.5" width="13" height="1.02" fill="#f2db8f"/>
<rect x="370" y="416.5" width="13" height="1.02" fill="#e9a457"/>
<rect x="370" y="417.5" width="13" height="8.02" fill="#dd7f40"/>
<rect x="370" y="425.5" width="13" height="1.02" fill="#e69c51"/>
<rect x="370" y="426.5" width="13" height="8.02" fill="#eeb667"/>
<rect x="383" y="384.6" width="12.5" height="10.02" fill="#a0e2ea"/>
<rect x="383" y="394.6" width="12.5" height="1.02" fill="#a1e2e9"/>
<rect x="383" y="395.6" width="12.5" height="1.02" fill="#aee7e2"/>
<rect x="383" y="396.6" width="12.5" height="8.02" fill="#bfead9"/>
<rect x="383" y="404.6" width="12.5" height="1.02" fill="#d3ecce"/>
<rect x="383" y="405.6" width="12.5" height="1.02" fill="#e6eabe"/>
<rect x="383" y="406.6" width="12.5" height="6.02" fill="#e8e8b9"/>
<rect x="383" y="412.6" width="12.5" height="1.02" fill="#f0df99"/>
<rect x="383" y="413.6" width="12.5" height="1.02" fill="#f1c778"/>
<rect x="383" y="414.6" width="12.5" height="19.92" fill="#f0c070"/>
</g>
<g stroke="#000" stroke-opacity="0.45" stroke-width="1" stroke-dasharray="1 3.401"><line x1="44.25" y1="112.5" x2="395" y2="112.5"/><line x1="44.25" y1="141.5" x2="395" y2="141.5"/><line x1="44.25" y1="171.5" x2="395" y2="171.5"/><line x1="44.25" y1="200.5" x2="395" y2="200.5"/><line x1="44.25" y1="230.5" x2="395" y2="230.5"/><line x1="44.25" y1="259.5" x2="395" y2="259.5"/><line x1="44.25" y1="288.5" x2="395" y2="288.5"/><line x1="44.25" y1="318.5" x2="395" y2="318.5"/><line x1="44.25" y1="347.5" x2="395" y2="347.5"/><line x1="44.25" y1="377.5" x2="395" y2="377.5"/><line x1="44.25" y1="404.5" x2="395" y2="404.5"/></g>
<rect x="44.6" y="83.6" width="350.8" height="350.8" fill="none" stroke="#000" stroke-width="1.2"/>
<g stroke="#000" stroke-width="1.2">
<line x1="38.2" y1="112.5" x2="44.6" y2="112.5"/>
<line x1="38.2" y1="141.5" x2="44.6" y2="141.5"/>
<line x1="38.2" y1="171.5" x2="44.6" y2="171.5"/>
<line x1="38.2" y1="200.5" x2="44.6" y2="200.5"/>
<line x1="38.2" y1="230.5" x2="44.6" y2="230.5"/>
<line x1="38.2" y1="259.5" x2="44.6" y2="259.5"/>
<line x1="38.2" y1="288.5" x2="44.6" y2="288.5"/>
<line x1="38.2" y1="318.5" x2="44.6" y2="318.5"/>
<line x1="38.2" y1="347.5" x2="44.6" y2="347.5"/>
<line x1="38.2" y1="377.5" x2="44.6" y2="377.5"/>
<line x1="38.2" y1="404.5" x2="44.6" y2="404.5"/>
<line x1="38.2" y1="434.5" x2="44.6" y2="434.5"/>
<line x1="50.5" y1="434.4" x2="50.5" y2="439.8"/>
<line x1="62.5" y1="434.4" x2="62.5" y2="439.8"/>
<line x1="75.5" y1="434.4" x2="75.5" y2="439.8"/>
<line x1="88.5" y1="434.4" x2="88.5" y2="439.8"/>
<line x1="100.5" y1="434.4" x2="100.5" y2="439.8"/>
<line x1="113.5" y1="434.4" x2="113.5" y2="439.8"/>
<line x1="125.5" y1="434.4" x2="125.5" y2="439.8"/>
<line x1="138.5" y1="434.4" x2="138.5" y2="439.8"/>
<line x1="150.5" y1="434.4" x2="150.5" y2="439.8"/>
<line x1="163.5" y1="434.4" x2="163.5" y2="439.8"/>
<line x1="175.5" y1="434.4" x2="175.5" y2="439.8"/>
<line x1="188.5" y1="434.4" x2="188.5" y2="439.8"/>
<line x1="200.5" y1="434.4" x2="200.5" y2="439.8"/>
<line x1="213.5" y1="434.4" x2="213.5" y2="439.8"/>
<line x1="225.5" y1="434.4" x2="225.5" y2="439.8"/>
<line x1="238.5" y1="434.4" x2="238.5" y2="439.8"/>
<line x1="251.5" y1="434.4" x2="251.5" y2="439.8"/>
<line x1="263.5" y1="434.4" x2="263.5" y2="439.8"/>
<line x1="276.5" y1="434.4" x2="276.5" y2="439.8"/>
<line x1="288.5" y1="434.4" x2="288.5" y2="439.8"/>
<line x1="301.5" y1="434.4" x2="301.5" y2="439.8"/>
<line x1="313.5" y1="434.4" x2="313.5" y2="439.8"/>
<line x1="326.5" y1="434.4" x2="326.5" y2="439.8"/>
<line x1="338.5" y1="434.4" x2="338.5" y2="439.8"/>
<line x1="351.5" y1="434.4" x2="351.5" y2="439.8"/>
<line x1="363.5" y1="434.4" x2="363.5" y2="439.8"/>
<line x1="376.5" y1="434.4" x2="376.5" y2="439.8"/>
<line x1="388.5" y1="434.4" x2="388.5" y2="439.8"/>
</g>
<g class="lab" text-anchor="end"><text x="31.5" y="115.8">Sep</text><text x="31.5" y="144.9">Aug</text><text x="31.5" y="174.9">Jul</text><text x="31.5" y="204">Jun</text><text x="31.5" y="233.8">May</text><text x="31.5" y="262.9">Apr</text><text x="31.5" y="292.1">Mar</text><text x="31.5" y="321.8">Feb</text><text x="31.5" y="351">Jan</text><text x="31.5" y="380.8">Dec</text><text x="31.5" y="408">Nov</text><text x="31.5" y="438">Oct</text></g>
<text class="lab" transform="translate(54.3,474.5) rotate(-90)" x="0" y="0" textLength="27" lengthAdjust="spacingAndGlyphs">1999</text>
<text class="lab" transform="translate(66.84,474.5) rotate(-90)" x="0" y="0" textLength="27" lengthAdjust="spacingAndGlyphs">2000</text>
<text class="lab" transform="translate(79.38,474.5) rotate(-90)" x="0" y="0" textLength="27" lengthAdjust="spacingAndGlyphs">2001</text>
<text class="lab" transform="translate(91.92,474.5) rotate(-90)" x="0" y="0" textLength="27" lengthAdjust="spacingAndGlyphs">2002</text>
<text class="lab" transform="translate(104.46,474.5) rotate(-90)" x="0" y="0" textLength="27" lengthAdjust="spacingAndGlyphs">2003</text>
<text class="lab" transform="translate(117,474.5) rotate(-90)" x="0" y="0" textLength="27" lengthAdjust="spacingAndGlyphs">2004</text>
<text class="lab" transform="translate(129.54,474.5) rotate(-90)" x="0" y="0" textLength="27" lengthAdjust="spacingAndGlyphs">2005</text>
<text class="lab" transform="translate(142.08,474.5) rotate(-90)" x="0" y="0" textLength="27" lengthAdjust="spacingAndGlyphs">2006</text>
<text class="lab" transform="translate(154.62,474.5) rotate(-90)" x="0" y="0" textLength="27" lengthAdjust="spacingAndGlyphs">2007</text>
<text class="lab" transform="translate(167.16,474.5) rotate(-90)" x="0" y="0" textLength="27" lengthAdjust="spacingAndGlyphs">2008</text>
<text class="lab" transform="translate(179.7,474.5) rotate(-90)" x="0" y="0" textLength="27" lengthAdjust="spacingAndGlyphs">2009</text>
<text class="lab" transform="translate(192.24,474.5) rotate(-90)" x="0" y="0" textLength="27" lengthAdjust="spacingAndGlyphs">2010</text>
<text class="lab" transform="translate(204.78,474.5) rotate(-90)" x="0" y="0" textLength="27" lengthAdjust="spacingAndGlyphs">2011</text>
<text class="lab" transform="translate(217.32,474.5) rotate(-90)" x="0" y="0" textLength="27" lengthAdjust="spacingAndGlyphs">2012</text>
<text class="lab" transform="translate(229.86,474.5) rotate(-90)" x="0" y="0" textLength="27" lengthAdjust="spacingAndGlyphs">2013</text>
<text class="lab" transform="translate(242.4,474.5) rotate(-90)" x="0" y="0" textLength="27" lengthAdjust="spacingAndGlyphs">2014</text>
<text class="lab" transform="translate(254.94,474.5) rotate(-90)" x="0" y="0" textLength="27" lengthAdjust="spacingAndGlyphs">2015</text>
<text class="lab" transform="translate(267.48,474.5) rotate(-90)" x="0" y="0" textLength="27" lengthAdjust="spacingAndGlyphs">2016</text>
<text class="lab" transform="translate(280.02,474.5) rotate(-90)" x="0" y="0" textLength="27" lengthAdjust="spacingAndGlyphs">2017</text>
<text class="lab" transform="translate(292.56,474.5) rotate(-90)" x="0" y="0" textLength="27" lengthAdjust="spacingAndGlyphs">2018</text>
<text class="lab" transform="translate(305.1,474.5) rotate(-90)" x="0" y="0" textLength="27" lengthAdjust="spacingAndGlyphs">2019</text>
<text class="lab" transform="translate(317.64,474.5) rotate(-90)" x="0" y="0" textLength="27" lengthAdjust="spacingAndGlyphs">2020</text>
<text class="lab" transform="translate(330.18,474.5) rotate(-90)" x="0" y="0" textLength="27" lengthAdjust="spacingAndGlyphs">2021</text>
<text class="lab" transform="translate(342.72,474.5) rotate(-90)" x="0" y="0" textLength="27" lengthAdjust="spacingAndGlyphs">2022</text>
<text class="lab" transform="translate(355.26,474.5) rotate(-90)" x="0" y="0" textLength="27" lengthAdjust="spacingAndGlyphs">2023</text>
<text class="lab" transform="translate(367.8,474.5) rotate(-90)" x="0" y="0" textLength="27" lengthAdjust="spacingAndGlyphs">2024</text>
<text class="lab" transform="translate(380.34,474.5) rotate(-90)" x="0" y="0" textLength="27" lengthAdjust="spacingAndGlyphs">2025</text>
<text class="lab" transform="translate(392.88,474.5) rotate(-90)" x="0" y="0" textLength="27" lengthAdjust="spacingAndGlyphs">2026</text>
<rect x="403.6" y="83.6" width="18" height="350.8" fill="url(#cb)" stroke="#000" stroke-width="1.2"/>
<g stroke="#000" stroke-width="1.2">
<line x1="421.6" y1="83.6" x2="426.6" y2="83.6"/>
<line x1="421.6" y1="171.3" x2="426.6" y2="171.3"/>
<line x1="421.6" y1="259" x2="426.6" y2="259"/>
<line x1="421.6" y1="346.7" x2="426.6" y2="346.7"/>
<line x1="421.6" y1="434.4" x2="426.6" y2="434.4"/>
</g>
<g class="lab">
<text x="437.3" y="86.7" textLength="48.6" lengthAdjust="spacingAndGlyphs">&gt; 70.000</text>
<text x="437.5" y="175">65</text>
<text x="437.5" y="263">60</text>
<text x="437.5" y="350.5">55</text>
<text x="437.5" y="438.5" textLength="48.4" lengthAdjust="spacingAndGlyphs">&lt; 50.000</text>
</g>
<text x="5.3" y="489" textLength="207.5" lengthAdjust="spacingAndGlyphs" style="font-size:12px;fill:#4a555a">www.cbr.washington.edu/sacramento/</text>
<text x="350.2" y="489" textLength="144.4" lengthAdjust="spacingAndGlyphs" style="font-size:12px;fill:#4a555a">23 Nov 2025 15:45:04 PST</text>
</svg>
</body></html>
